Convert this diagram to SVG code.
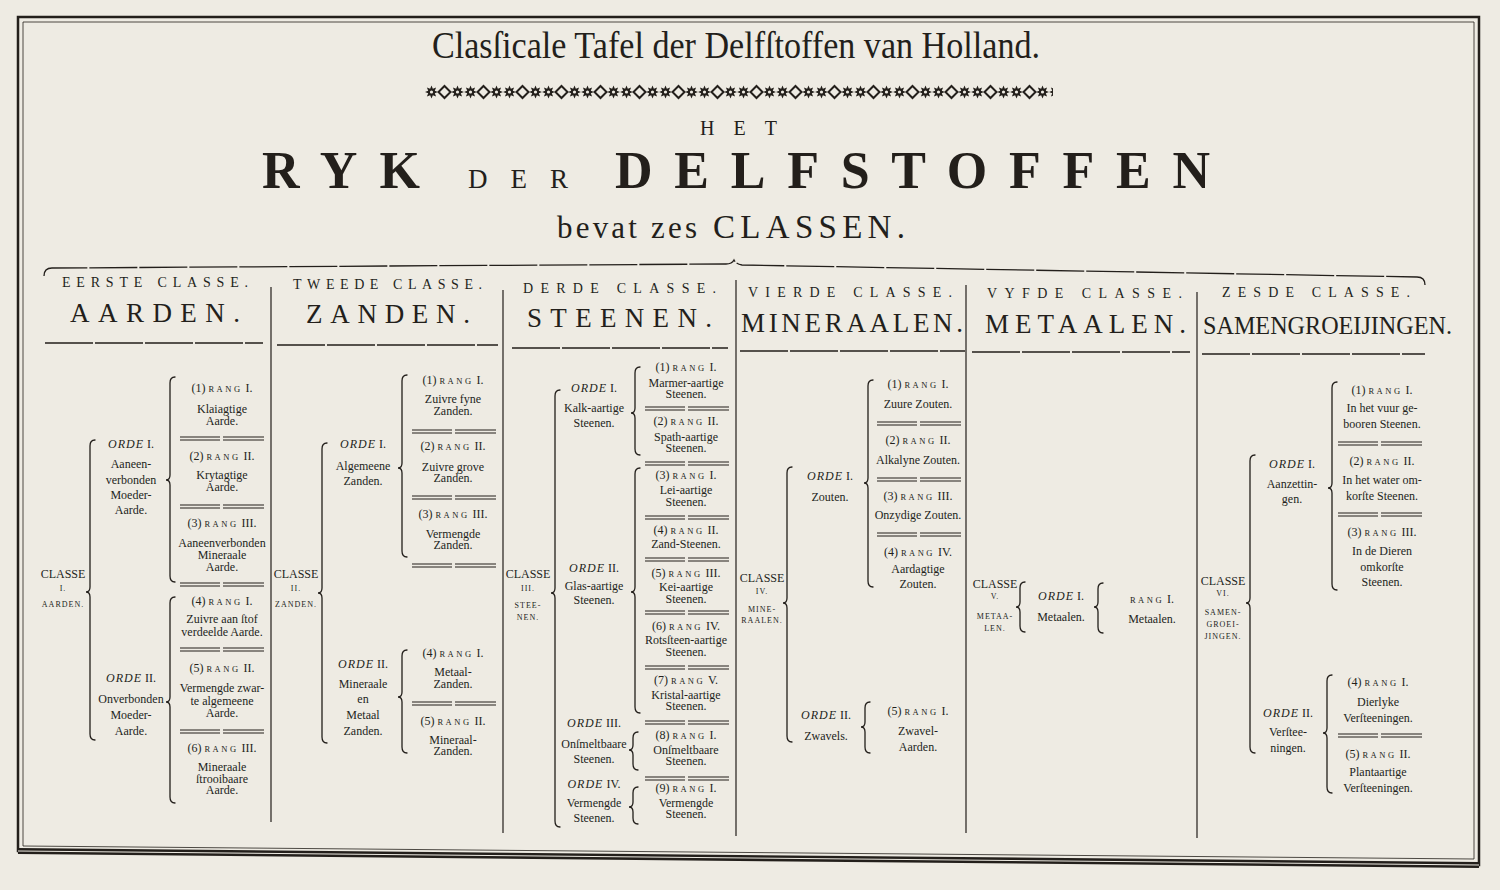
<svg xmlns="http://www.w3.org/2000/svg" xmlns:xlink="http://www.w3.org/1999/xlink" width="1500" height="890" viewBox="0 0 1500 890">
<style>
.f{font-family:"Liberation Serif","Times New Roman",serif;fill:#231f1b}
.m{text-anchor:middle}
.b{font-size:12px}
.sc{font-size:8.5px;letter-spacing:2.5px}
.i{font-style:italic;letter-spacing:1px}
.cs{font-size:8px;letter-spacing:1px}
.hd{font-size:14px}
.nm{font-size:27px}
.ln{fill:none;stroke:#231f1b;stroke-width:1.2}
.br{fill:none;stroke:#231f1b;stroke-width:1.3;stroke-linecap:round}
.rule{fill:none;stroke:#231f1b;stroke-width:1.3;stroke-dasharray:48 2}
.sp{fill:none;stroke:#231f1b;stroke-width:1.2}
</style>
<defs>
<g id="sep"><path class="sp" d="M0,0H40M0,3H40M43,0H84M43,3H84"/></g>
<path id="st" d="M6.5,0 3.3,1.37 4.6,4.6 1.37,3.3 0,6.5 -1.37,3.3 -4.6,4.6 -3.3,1.37 -6.5,0 -3.3,-1.37 -4.6,-4.6 -1.37,-3.3 0,-6.5 1.37,-3.3 4.6,-4.6 3.3,-1.37Z"/>
<pattern id="orn" x="425" y="84" width="39" height="16" patternUnits="userSpaceOnUse">
<g fill="#231f1b"><use xlink:href="#st" x="6.5" y="8"/><use xlink:href="#st" x="32.5" y="8"/></g>
<circle cx="6.5" cy="8" r="1.6" fill="#eeebe3"/><circle cx="32.5" cy="8" r="1.6" fill="#eeebe3"/>
<path d="M19.5,2 25.5,8 19.5,14 13.5,8Z" fill="none" stroke="#231f1b" stroke-width="2"/>
</pattern>
</defs>
<rect width="1500" height="890" fill="#eeebe3"/>
<g id="frame">
<path d="M18,17 H1479 V865 L18,851 Z" fill="none" stroke="#231f1b" stroke-width="2.5"/>
<path d="M23,22 H1474 V859 L23,846 Z" fill="none" stroke="#231f1b" stroke-width="0.8"/>
<path d="M18,851 L1479,865" stroke="#231f1b" stroke-width="6"/>
<path d="M18,851 L1479,865" stroke="#eeebe3" stroke-width="1"/>
</g>
<g id="title">
<text class="f m" x="736" y="58" font-size="37" textLength="608" lengthAdjust="spacingAndGlyphs">Clasſicale Tafel der Delfſtoffen van Holland.</text>
<rect x="425" y="84" width="628" height="16" fill="url(#orn)"/>
<text class="f" x="700" y="135" font-size="20" textLength="77" lengthAdjust="spacing">HET</text>
<text class="f" x="262" y="188" font-size="52" font-weight="bold" textLength="158" lengthAdjust="spacing">RYK</text>
<text class="f" x="468" y="188" font-size="27" textLength="100" lengthAdjust="spacing">DER</text>
<text class="f" x="615" y="188" font-size="52" font-weight="bold" textLength="595" lengthAdjust="spacing">DELFSTOFFEN</text>
<text class="f" x="557" y="238" font-size="31" textLength="140" lengthAdjust="spacing">bevat zes</text>
<text class="f" x="713" y="238" font-size="33" textLength="192" lengthAdjust="spacing">CLASSEN.</text>
</g>
<g id="table-rules">
<path class="rule" d="M44,276 Q44,268 52,268 L726,264 Q732,264 734,260 Q736,264 742,265 L1417,277 Q1425,277 1425,285"/>
<path class="rule" d="M45,343H263M277,345H498M512,348H728M740,351H965M972,352H1190M1202,354H1425"/>
<path class="ln" d="M271,287V822M503,290V833M736,280V836M966,285V833M1197,292V838"/>
</g>
<g id="connectors">
<path class="br" d="M95,440Q90,440 90,446V587Q90,592 86,592Q90,592 90,597V734Q90,740 95,740"/>
<path class="br" d="M175,377Q170,377 170,383V475Q170,480 166,480Q170,480 170,485V576Q170,582 175,582"/>
<path class="br" d="M175,597Q170,597 170,603V697Q170,702 166,702Q170,702 170,707V797Q170,803 175,803"/>
<path class="br" d="M327,443Q322,443 322,449V588Q322,593 318,593Q322,593 322,598V737Q322,743 327,743"/>
<path class="br" d="M407,375Q402,375 402,381V463Q402,468 398,468Q402,468 402,473V551Q402,557 407,557"/>
<path class="br" d="M407,650Q402,650 402,656V692Q402,697 398,697Q402,697 402,702V747Q402,753 407,753"/>
<path class="br" d="M560,390Q555,390 555,396V588Q555,593 551,593Q555,593 555,598V821Q555,827 560,827"/>
<path class="br" d="M640,367Q635,367 635,373V408Q635,413 631,413Q635,413 635,418V449Q635,455 640,455"/>
<path class="br" d="M640,468Q635,468 635,474V587Q635,592 631,592Q635,592 635,597V707Q635,713 640,713"/>
<path class="br" d="M638,732Q633,732 633,738V745Q633,750 629,750Q633,750 633,755V764Q633,770 638,770"/>
<path class="br" d="M638,787Q633,787 633,793V802Q633,807 629,807Q633,807 633,812V818Q633,824 638,824"/>
<path class="br" d="M792,467Q787,467 787,473V598Q787,603 783,603Q787,603 787,608V736Q787,742 792,742"/>
<path class="br" d="M873,380Q868,380 868,386V478Q868,483 864,483Q868,483 868,488V581Q868,587 873,587"/>
<path class="br" d="M870,702Q865,702 865,708V722Q865,727 861,727Q865,727 865,732V747Q865,753 870,753"/>
<path class="br" d="M1025,582Q1020,582 1020,588V602Q1020,607 1016,607Q1020,607 1020,612V626Q1020,632 1025,632"/>
<path class="br" d="M1103,583Q1098,583 1098,589V602Q1098,607 1094,607Q1098,607 1098,612V627Q1098,633 1103,633"/>
<path class="br" d="M1255,455Q1250,455 1250,461V598Q1250,603 1246,603Q1250,603 1250,608V747Q1250,753 1255,753"/>
<path class="br" d="M1337,382Q1332,382 1332,388V483Q1332,488 1328,488Q1332,488 1332,493V584Q1332,590 1337,590"/>
<path class="br" d="M1332,675Q1327,675 1327,681V728Q1327,733 1323,733Q1327,733 1327,738V787Q1327,793 1332,793"/>
</g>
<g id="separators">
<use xlink:href="#sep" x="180" y="437"/><use xlink:href="#sep" x="180" y="505"/><use xlink:href="#sep" x="180" y="583"/><use xlink:href="#sep" x="180" y="648"/><use xlink:href="#sep" x="180" y="730"/>
<use xlink:href="#sep" x="412" y="430"/><use xlink:href="#sep" x="412" y="496"/><use xlink:href="#sep" x="412" y="564"/><use xlink:href="#sep" x="412" y="702"/>
<use xlink:href="#sep" x="645" y="407"/><use xlink:href="#sep" x="645" y="462"/><use xlink:href="#sep" x="645" y="516"/><use xlink:href="#sep" x="645" y="558"/><use xlink:href="#sep" x="645" y="611"/><use xlink:href="#sep" x="645" y="666"/><use xlink:href="#sep" x="645" y="721"/><use xlink:href="#sep" x="645" y="777"/>
<use xlink:href="#sep" x="877" y="422"/><use xlink:href="#sep" x="877" y="478"/><use xlink:href="#sep" x="877" y="533"/>
<use xlink:href="#sep" x="1338" y="442"/><use xlink:href="#sep" x="1338" y="513"/><use xlink:href="#sep" x="1338" y="734"/>
</g>

<!-- Column 1 -->
<g id="class1-head">
<text class="f hd" x="62" y="287" textLength="186" lengthAdjust="spacing">EERSTE CLASSE.</text>
<text class="f nm" x="70" y="322" textLength="170" lengthAdjust="spacing">AARDEN.</text>
</g>
<g id="class1">
<text class="f m b" x="63" y="578">CLASSE</text>
<text class="f m cs" x="63" y="591">I.</text>
<text class="f m cs" x="63" y="607">AARDEN.</text>
</g>
<g id="c1-orde1">
<text class="f m b" x="131" y="448"><tspan class="i">ORDE</tspan> I.</text>
<text class="f m b" x="131" y="468">Aaneen-</text>
<text class="f m b" x="131" y="484">verbonden</text>
<text class="f m b" x="131" y="499">Moeder-</text>
<text class="f m b" x="131" y="514">Aarde.</text>
</g>
<g id="c1-orde2">
<text class="f m b" x="131" y="682"><tspan class="i">ORDE</tspan> II.</text>
<text class="f m b" x="131" y="703">Onverbonden</text>
<text class="f m b" x="131" y="719">Moeder-</text>
<text class="f m b" x="131" y="735">Aarde.</text>
</g>
<g id="c1-rang1">
<text class="f m b" x="222" y="392">(1) <tspan class="sc">RANG</tspan> I.</text>
<text class="f m b" x="222" y="413">Klaiagtige</text>
<text class="f m b" x="222" y="425">Aarde.</text>
</g>
<g id="c1-rang2">
<text class="f m b" x="222" y="460">(2) <tspan class="sc">RANG</tspan> II.</text>
<text class="f m b" x="222" y="479">Krytagtige</text>
<text class="f m b" x="222" y="491">Aarde.</text>
</g>
<g id="c1-rang3">
<text class="f m b" x="222" y="527">(3) <tspan class="sc">RANG</tspan> III.</text>
<text class="f m b" x="222" y="547">Aaneenverbonden</text>
<text class="f m b" x="222" y="559">Mineraale</text>
<text class="f m b" x="222" y="571">Aarde.</text>
</g>
<g id="c1-rang4">
<text class="f m b" x="222" y="605">(4) <tspan class="sc">RANG</tspan> I.</text>
<text class="f m b" x="222" y="623">Zuivre aan ſtof</text>
<text class="f m b" x="222" y="636">verdeelde Aarde.</text>
</g>
<g id="c1-rang5">
<text class="f m b" x="222" y="672">(5) <tspan class="sc">RANG</tspan> II.</text>
<text class="f m b" x="222" y="692">Vermengde zwar-</text>
<text class="f m b" x="222" y="705">te algemeene</text>
<text class="f m b" x="222" y="717">Aarde.</text>
</g>
<g id="c1-rang6">
<text class="f m b" x="222" y="752">(6) <tspan class="sc">RANG</tspan> III.</text>
<text class="f m b" x="222" y="771">Mineraale</text>
<text class="f m b" x="222" y="783">ſtrooibaare</text>
<text class="f m b" x="222" y="794">Aarde.</text>
</g>

<!-- Column 2 -->
<g id="class2-head">
<text class="f hd" x="293" y="289" textLength="189" lengthAdjust="spacing">TWEEDE CLASSE.</text>
<text class="f nm" x="306" y="323" textLength="164" lengthAdjust="spacing">ZANDEN.</text>
</g>
<g id="class2">
<text class="f m b" x="296" y="578">CLASSE</text>
<text class="f m cs" x="296" y="591">II.</text>
<text class="f m cs" x="296" y="607">ZANDEN.</text>
</g>
<g id="c2-orde1">
<text class="f m b" x="363" y="448"><tspan class="i">ORDE</tspan> I.</text>
<text class="f m b" x="363" y="470">Algemeene</text>
<text class="f m b" x="363" y="485">Zanden.</text>
</g>
<g id="c2-orde2">
<text class="f m b" x="363" y="668"><tspan class="i">ORDE</tspan> II.</text>
<text class="f m b" x="363" y="688">Mineraale</text>
<text class="f m b" x="363" y="703">en</text>
<text class="f m b" x="363" y="719">Metaal</text>
<text class="f m b" x="363" y="735">Zanden.</text>
</g>
<g id="c2-rang1">
<text class="f m b" x="453" y="384">(1) <tspan class="sc">RANG</tspan> I.</text>
<text class="f m b" x="453" y="403">Zuivre fyne</text>
<text class="f m b" x="453" y="415">Zanden.</text>
</g>
<g id="c2-rang2">
<text class="f m b" x="453" y="450">(2) <tspan class="sc">RANG</tspan> II.</text>
<text class="f m b" x="453" y="471">Zuivre grove</text>
<text class="f m b" x="453" y="482">Zanden.</text>
</g>
<g id="c2-rang3">
<text class="f m b" x="453" y="518">(3) <tspan class="sc">RANG</tspan> III.</text>
<text class="f m b" x="453" y="538">Vermengde</text>
<text class="f m b" x="453" y="549">Zanden.</text>
</g>
<g id="c2-rang4">
<text class="f m b" x="453" y="657">(4) <tspan class="sc">RANG</tspan> I.</text>
<text class="f m b" x="453" y="676">Metaal-</text>
<text class="f m b" x="453" y="688">Zanden.</text>
</g>
<g id="c2-rang5">
<text class="f m b" x="453" y="725">(5) <tspan class="sc">RANG</tspan> II.</text>
<text class="f m b" x="453" y="744">Mineraal-</text>
<text class="f m b" x="453" y="755">Zanden.</text>
</g>

<!-- Column 3 -->
<g id="class3-head">
<text class="f hd" x="523" y="293" textLength="193" lengthAdjust="spacing">DERDE CLASSE.</text>
<text class="f nm" x="527" y="327" textLength="185" lengthAdjust="spacing">STEENEN.</text>
</g>
<g id="class3">
<text class="f m b" x="528" y="578">CLASSE</text>
<text class="f m cs" x="528" y="591">III.</text>
<text class="f m cs" x="528" y="608">STEE-</text>
<text class="f m cs" x="528" y="620">NEN.</text>
</g>
<g id="c3-orde1">
<text class="f m b" x="594" y="392"><tspan class="i">ORDE</tspan> I.</text>
<text class="f m b" x="594" y="412">Kalk-aartige</text>
<text class="f m b" x="594" y="427">Steenen.</text>
</g>
<g id="c3-orde2">
<text class="f m b" x="594" y="572"><tspan class="i">ORDE</tspan> II.</text>
<text class="f m b" x="594" y="590">Glas-aartige</text>
<text class="f m b" x="594" y="604">Steenen.</text>
</g>
<g id="c3-orde3">
<text class="f m b" x="594" y="727"><tspan class="i">ORDE</tspan> III.</text>
<text class="f m b" x="594" y="748">Onſmeltbaare</text>
<text class="f m b" x="594" y="763">Steenen.</text>
</g>
<g id="c3-orde4">
<text class="f m b" x="594" y="788"><tspan class="i">ORDE</tspan> IV.</text>
<text class="f m b" x="594" y="807">Vermengde</text>
<text class="f m b" x="594" y="822">Steenen.</text>
</g>
<g id="c3-rang1">
<text class="f m b" x="686" y="371">(1) <tspan class="sc">RANG</tspan> I.</text>
<text class="f m b" x="686" y="387">Marmer-aartige</text>
<text class="f m b" x="686" y="398">Steenen.</text>
</g>
<g id="c3-rang2">
<text class="f m b" x="686" y="425">(2) <tspan class="sc">RANG</tspan> II.</text>
<text class="f m b" x="686" y="441">Spath-aartige</text>
<text class="f m b" x="686" y="452">Steenen.</text>
</g>
<g id="c3-rang3">
<text class="f m b" x="686" y="479">(3) <tspan class="sc">RANG</tspan> I.</text>
<text class="f m b" x="686" y="494">Lei-aartige</text>
<text class="f m b" x="686" y="506">Steenen.</text>
</g>
<g id="c3-rang4">
<text class="f m b" x="686" y="534">(4) <tspan class="sc">RANG</tspan> II.</text>
<text class="f m b" x="686" y="548">Zand-Steenen.</text>
</g>
<g id="c3-rang5">
<text class="f m b" x="686" y="577">(5) <tspan class="sc">RANG</tspan> III.</text>
<text class="f m b" x="686" y="591">Kei-aartige</text>
<text class="f m b" x="686" y="603">Steenen.</text>
</g>
<g id="c3-rang6">
<text class="f m b" x="686" y="630">(6) <tspan class="sc">RANG</tspan> IV.</text>
<text class="f m b" x="686" y="644">Rotsſteen-aartige</text>
<text class="f m b" x="686" y="656">Steenen.</text>
</g>
<g id="c3-rang7">
<text class="f m b" x="686" y="684">(7) <tspan class="sc">RANG</tspan> V.</text>
<text class="f m b" x="686" y="699">Kristal-aartige</text>
<text class="f m b" x="686" y="710">Steenen.</text>
</g>
<g id="c3-rang8">
<text class="f m b" x="686" y="739">(8) <tspan class="sc">RANG</tspan> I.</text>
<text class="f m b" x="686" y="754">Onſmeltbaare</text>
<text class="f m b" x="686" y="765">Steenen.</text>
</g>
<g id="c3-rang9">
<text class="f m b" x="686" y="792">(9) <tspan class="sc">RANG</tspan> I.</text>
<text class="f m b" x="686" y="807">Vermengde</text>
<text class="f m b" x="686" y="818">Steenen.</text>
</g>

<!-- Column 4 -->
<g id="class4-head">
<text class="f hd" x="748" y="297" textLength="204" lengthAdjust="spacing">VIERDE CLASSE.</text>
<text class="f nm" x="741" y="332" textLength="222" lengthAdjust="spacing">MINERAALEN.</text>
</g>
<g id="class4">
<text class="f m b" x="762" y="582">CLASSE</text>
<text class="f m cs" x="762" y="594">IV.</text>
<text class="f m cs" x="762" y="612">MINE-</text>
<text class="f m cs" x="762" y="623">RAALEN.</text>
</g>
<g id="c4-orde1">
<text class="f m b" x="830" y="480"><tspan class="i">ORDE</tspan> I.</text>
<text class="f m b" x="830" y="501">Zouten.</text>
</g>
<g id="c4-orde2">
<text class="f m b" x="826" y="719"><tspan class="i">ORDE</tspan> II.</text>
<text class="f m b" x="826" y="740">Zwavels.</text>
</g>
<g id="c4-rang1">
<text class="f m b" x="918" y="388">(1) <tspan class="sc">RANG</tspan> I.</text>
<text class="f m b" x="918" y="408">Zuure Zouten.</text>
</g>
<g id="c4-rang2">
<text class="f m b" x="918" y="444">(2) <tspan class="sc">RANG</tspan> II.</text>
<text class="f m b" x="918" y="464">Alkalyne Zouten.</text>
</g>
<g id="c4-rang3">
<text class="f m b" x="918" y="500">(3) <tspan class="sc">RANG</tspan> III.</text>
<text class="f m b" x="918" y="519">Onzydige Zouten.</text>
</g>
<g id="c4-rang4">
<text class="f m b" x="918" y="556">(4) <tspan class="sc">RANG</tspan> IV.</text>
<text class="f m b" x="918" y="573">Aardagtige</text>
<text class="f m b" x="918" y="588">Zouten.</text>
</g>
<g id="c4-rang5">
<text class="f m b" x="918" y="715">(5) <tspan class="sc">RANG</tspan> I.</text>
<text class="f m b" x="918" y="735">Zwavel-</text>
<text class="f m b" x="918" y="751">Aarden.</text>
</g>

<!-- Column 5 -->
<g id="class5-head">
<text class="f hd" x="987" y="298" textLength="195" lengthAdjust="spacing">VYFDE CLASSE.</text>
<text class="f nm" x="985" y="333" textLength="201" lengthAdjust="spacing">METAALEN.</text>
</g>
<g id="class5">
<text class="f m b" x="995" y="588">CLASSE</text>
<text class="f m cs" x="995" y="599">V.</text>
<text class="f m cs" x="995" y="619">METAA-</text>
<text class="f m cs" x="995" y="631">LEN.</text>
</g>
<g id="c5-orde1">
<text class="f m b" x="1061" y="600"><tspan class="i">ORDE</tspan> I.</text>
<text class="f m b" x="1061" y="621">Metaalen.</text>
</g>
<g id="c5-rang1">
<text class="f m b" x="1152" y="603"><tspan class="sc">RANG</tspan> I.</text>
<text class="f m b" x="1152" y="623">Metaalen.</text>
</g>

<!-- Column 6 -->
<g id="class6-head">
<text class="f hd" x="1222" y="297" textLength="188" lengthAdjust="spacing">ZESDE CLASSE.</text>
<text class="f" x="1203" y="334" font-size="26" textLength="249" lengthAdjust="spacingAndGlyphs">SAMENGROEIJINGEN.</text>
</g>
<g id="class6">
<text class="f m b" x="1223" y="585">CLASSE</text>
<text class="f m cs" x="1223" y="596">VI.</text>
<text class="f m cs" x="1223" y="615">SAMEN-</text>
<text class="f m cs" x="1223" y="627">GROEI-</text>
<text class="f m cs" x="1223" y="639">JINGEN.</text>
</g>
<g id="c6-orde1">
<text class="f m b" x="1292" y="468"><tspan class="i">ORDE</tspan> I.</text>
<text class="f m b" x="1292" y="488">Aanzettin-</text>
<text class="f m b" x="1292" y="503">gen.</text>
</g>
<g id="c6-orde2">
<text class="f m b" x="1288" y="717"><tspan class="i">ORDE</tspan> II.</text>
<text class="f m b" x="1288" y="736">Verſtee-</text>
<text class="f m b" x="1288" y="752">ningen.</text>
</g>
<g id="c6-rang1">
<text class="f m b" x="1382" y="394">(1) <tspan class="sc">RANG</tspan> I.</text>
<text class="f m b" x="1382" y="412">In het vuur ge-</text>
<text class="f m b" x="1382" y="428">booren Steenen.</text>
</g>
<g id="c6-rang2">
<text class="f m b" x="1382" y="465">(2) <tspan class="sc">RANG</tspan> II.</text>
<text class="f m b" x="1382" y="484">In het water om-</text>
<text class="f m b" x="1382" y="500">korſte Steenen.</text>
</g>
<g id="c6-rang3">
<text class="f m b" x="1382" y="536">(3) <tspan class="sc">RANG</tspan> III.</text>
<text class="f m b" x="1382" y="555">In de Dieren</text>
<text class="f m b" x="1382" y="571">omkorſte</text>
<text class="f m b" x="1382" y="586">Steenen.</text>
</g>
<g id="c6-rang4">
<text class="f m b" x="1378" y="686">(4) <tspan class="sc">RANG</tspan> I.</text>
<text class="f m b" x="1378" y="706">Dierlyke</text>
<text class="f m b" x="1378" y="722">Verſteeningen.</text>
</g>
<g id="c6-rang5">
<text class="f m b" x="1378" y="758">(5) <tspan class="sc">RANG</tspan> II.</text>
<text class="f m b" x="1378" y="776">Plantaartige</text>
<text class="f m b" x="1378" y="792">Verſteeningen.</text>
</g>
</svg>
